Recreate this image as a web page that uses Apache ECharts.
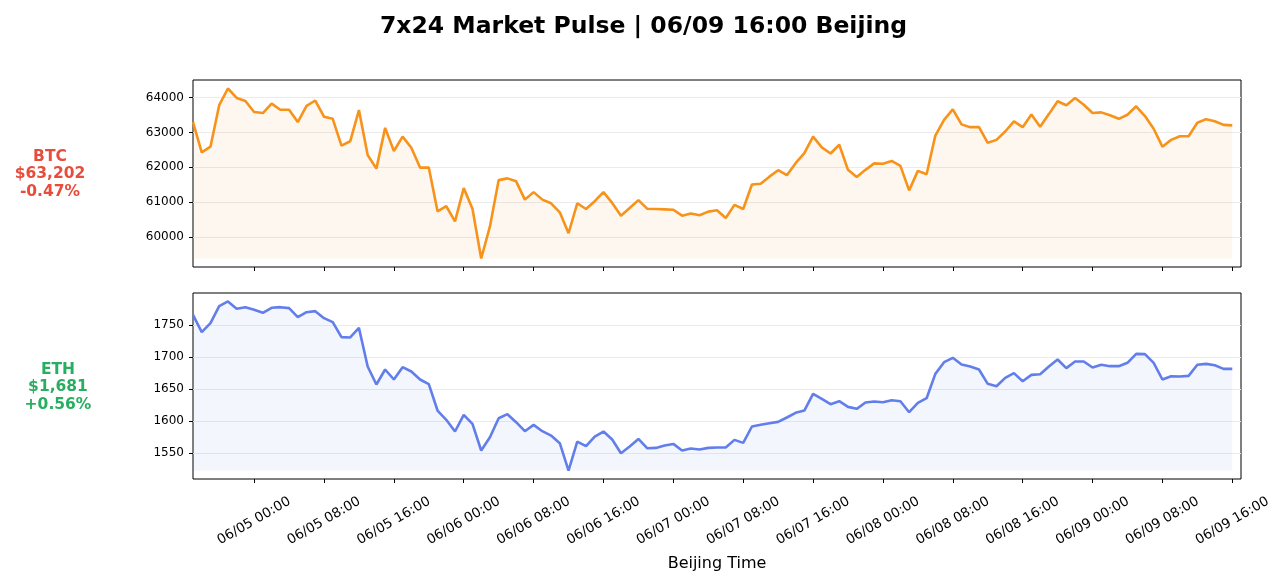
<!DOCTYPE html>
<html>
<head>
<meta charset="utf-8">
<script src="https://cdn.jsdelivr.net/npm/echarts@6/dist/echarts.min.js"></script>
<style>
  html, body { margin: 0; padding: 0; background: #fff; }
  #chart { width: 1287px; height: 583px; }
</style>
</head>
<body>
<div id="chart"></div>
<script>
// hourly closes, Beijing time, first point = 06/04 17:00
var startHour = 17 // hours after 06/04 00:00
var btc = [
  63295, 62425, 62590, 63780, 64260, 63990, 63900, 63585, 63555, 63825,
  63650, 63650, 63295, 63760, 63915, 63450, 63390, 62620, 62745, 63640,
  62350, 61960, 63130, 62465, 62880, 62560, 61990, 61990, 60735, 60880,
  60445, 61400, 60810, 59380, 60300, 61630, 61680, 61595, 61070, 61285,
  61070, 60965, 60705, 60105, 60965, 60800, 61025, 61285, 60975, 60610,
  60830, 61055, 60810, 60800, 60790, 60780, 60610, 60670, 60620, 60725,
  60765, 60540, 60920, 60800, 61505, 61525, 61730, 61915, 61770, 62115,
  62405, 62880, 62570, 62395, 62645, 61925, 61720, 61925, 62110, 62100,
  62180, 62040, 61335, 61895, 61800, 62910, 63360, 63660, 63230, 63150,
  63150, 62700, 62785, 63025, 63315, 63150, 63515, 63160, 63525, 63895,
  63780, 63990, 63795, 63555, 63575, 63490, 63390, 63505, 63750, 63470,
  63105, 62590, 62785, 62890, 62890, 63275, 63380, 63320, 63215, 63202
]
var eth = [
  1765.6, 1738.6, 1752.6, 1779.1, 1786.4, 1774.9, 1777.5, 1773.4, 1768.7, 1776.5,
  1777.5, 1776.0, 1762.0, 1769.7, 1771.3, 1760.4, 1754.2, 1730.8, 1730.3, 1745.3,
  1685.1, 1657.0, 1680.4, 1664.8, 1684.0, 1677.3, 1664.8, 1657.5, 1616.5, 1602.0,
  1583.8, 1609.7, 1595.7, 1554.2, 1574.9, 1604.5, 1610.8, 1598.3, 1584.3, 1594.2,
  1584.3, 1577.5, 1565.6, 1523.0, 1568.2, 1560.9, 1576.0, 1583.8, 1571.3, 1550.0,
  1560.4, 1572.3, 1557.8, 1558.3, 1561.9, 1564.5, 1554.2, 1557.3, 1555.7, 1558.3,
  1558.8, 1558.8, 1570.8, 1566.1, 1591.6, 1594.2, 1596.8, 1598.8, 1605.6, 1612.9,
  1616.5, 1642.5, 1634.7, 1626.4, 1631.0, 1622.2, 1619.1, 1629.0, 1630.5, 1629.5,
  1632.6, 1631.0, 1613.9, 1628.4, 1635.7, 1673.6, 1691.8, 1698.6, 1688.2, 1685.1,
  1680.4, 1658.1, 1654.4, 1667.4, 1674.7, 1662.2, 1672.1, 1673.1, 1685.1, 1696.0,
  1682.5, 1692.9, 1692.9, 1683.5, 1687.7, 1685.6, 1685.6, 1690.8, 1704.8, 1704.3,
  1690.8, 1664.8, 1670.0, 1669.5, 1670.5, 1687.7, 1689.2, 1687.1, 1681.4, 1681.4
]
var tickHours = [24, 32, 40, 48, 56, 64, 72, 80, 88, 96, 104, 112, 120, 128, 136]
var btcTicks = [60000, 61000, 62000, 63000, 64000]
var ethTicks = [1550, 1600, 1650, 1700, 1750]
var btcLabel = ['BTC', '$63,202', '-0.47%']
var ethLabel = ['ETH', '$1,681', '+0.56%']

var FONT = 'DejaVu Sans'

function toPairs(arr){
  var out = []
  for (var i = 0; i < arr.length; i++) out.push([startHour + i, arr[i]])
  return out
}
function hourLabel(h){
  var d = 4 + Math.floor(h / 24)
  var hh = h % 24
  return '06/' + (d < 10 ? '0' : '') + d + ' ' + (hh < 10 ? '0' : '') + hh + ':00'
}
function padMin(v){ return v.min - 0.05 * (v.max - v.min) }
function padMax(v){ return v.max + 0.05 * (v.max - v.min) }

function xAxisOpt(idx, showLabels){
  return {
    type: 'value', gridIndex: idx,
    min: startHour, max: startHour + 120,
    minInterval: 8, maxInterval: 8,
    axisLine: { show: false },
    axisTick: { show: true, length: 4, lineStyle: { color: '#000', width: 1 }, customValues: tickHours },
    axisLabel: {
      show: showLabels, customValues: tickHours, rotate: 30, align: 'center', verticalAlign: 'middle',
      margin: 42, fontSize: 13.5, fontFamily: FONT, color: '#000',
      formatter: function(v){ return hourLabel(v) }
    },
    splitLine: { show: false },
    name: showLabels ? 'Beijing Time' : '',
    nameLocation: 'middle', nameGap: 77,
    nameTextStyle: { fontSize: 16, fontFamily: FONT, color: '#000' }
  }
}
function yAxisOpt(idx, ticks, step){
  return {
    type: 'value', gridIndex: idx, scale: true,
    min: padMin, max: padMax,
    minInterval: step, maxInterval: step,
    axisLine: { show: false },
    axisTick: { show: true, length: 4, lineStyle: { color: '#000', width: 1 }, customValues: ticks },
    axisLabel: { customValues: ticks, margin: 9,
      fontSize: 12, fontFamily: FONT, color: '#000',
      formatter: function(v){ return String(v) } },
    splitLine: { show: true, lineStyle: { color: '#ebebeb', width: 1 } }
  }
}

var chart = echarts.init(document.getElementById('chart'))
chart.setOption({
  animation: false,
  backgroundColor: '#fff',
  title: {
    text: '7x24 Market Pulse | 06/09 16:00 Beijing',
    left: 'center', top: 10,
    textStyle: { fontSize: 23.5, fontWeight: 'bold', fontFamily: FONT, color: '#000' }
  },
  grid: [
    { left: 193, top: 80, right: 46, height: 187, show: true, borderColor: '#000', borderWidth: 1, backgroundColor: 'transparent' },
    { left: 193, top: 293, right: 46, height: 186, show: true, borderColor: '#000', borderWidth: 1, backgroundColor: 'transparent' }
  ],
  xAxis: [xAxisOpt(0, false), xAxisOpt(1, true)],
  yAxis: [yAxisOpt(0, btcTicks, 1000), yAxisOpt(1, ethTicks, 50)],
  graphic: [
    { type: 'text', x: 50, y: 174, style: {
      text: btcLabel.join('\n'), fill: '#e74c3c', align: 'center', verticalAlign: 'middle',
      font: 'bold 15.5px "DejaVu Sans"', lineHeight: 17.5 } },
    { type: 'text', x: 58, y: 387, style: {
      text: ethLabel.join('\n'), fill: '#27ae60', align: 'center', verticalAlign: 'middle',
      font: 'bold 15.5px "DejaVu Sans"', lineHeight: 17.5 } }
  ],
  series: [
    {
      type: 'line', xAxisIndex: 0, yAxisIndex: 0, data: toPairs(btc),
      showSymbol: false, lineStyle: { color: '#F7931A', width: 2.6 },
      itemStyle: { color: '#F7931A' },
      areaStyle: { color: 'rgba(247,147,26,0.1)', origin: Math.min.apply(null, btc) }
    },
    {
      type: 'line', xAxisIndex: 1, yAxisIndex: 1, data: toPairs(eth),
      showSymbol: false, lineStyle: { color: '#627EEA', width: 2.6 },
      itemStyle: { color: '#627EEA' },
      areaStyle: { color: 'rgba(98,126,234,0.1)', origin: Math.min.apply(null, eth) }
    }
  ]
})
</script>
</body>
</html>
